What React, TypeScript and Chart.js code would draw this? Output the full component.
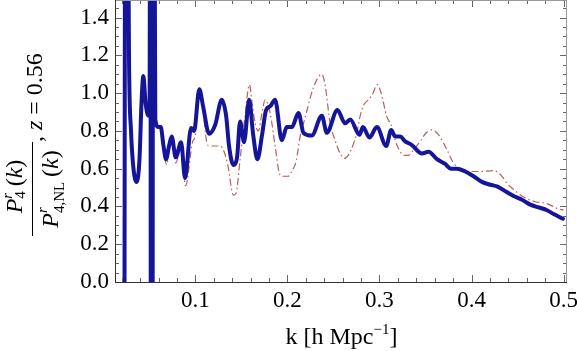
import { useEffect, useRef } from "react";
import { Chart, registerables } from "chart.js";

Chart.register(...registerables);

// ---- data ----
const kBlue = [
  0.0225, 0.0245, 0.0258, 0.0279, 0.0301, 0.0328, 0.0363, 0.0393, 0.0415, 0.0435,
  0.0459, 0.0483, 0.0502, 0.0511, 0.0518, 0.0526, 0.0533, 0.0541, 0.0548, 0.0565,
  0.0598, 0.0624, 0.0654, 0.0682, 0.0714, 0.0743, 0.0787, 0.0845, 0.0888, 0.0953,
  0.0986, 0.1043, 0.1084, 0.1149, 0.1214, 0.1287, 0.1334, 0.1366, 0.1413, 0.1453,
  0.1486, 0.1529, 0.1584, 0.1628, 0.1674, 0.1725, 0.1768, 0.1812, 0.1866, 0.1939,
  0.1993, 0.2048, 0.212, 0.2174, 0.2265, 0.2374, 0.2428, 0.2543, 0.2627, 0.2682,
  0.2783, 0.282, 0.2891, 0.2972, 0.3073, 0.3127, 0.3171, 0.3225, 0.3279, 0.3352,
  0.3461, 0.3533, 0.3624, 0.3714, 0.3776, 0.3841, 0.3932, 0.4022, 0.4113, 0.4203,
  0.4283, 0.4385, 0.4457, 0.4548, 0.4638, 0.4728, 0.482, 0.4891, 0.4993,
];
const vBlue = [
  -2, 4, 3.0, 1.2, 0.8, 0.6, 0.53, 0.65, 0.95, 1.09,
  0.95, 0.885, 0.88, 3, -2, 3, -2, 3, 3, 0.86,
  0.82, 0.82, 0.72, 0.65, 0.72, 0.77, 0.66, 0.74, 0.55, 0.815,
  0.8, 1.02, 0.93, 0.785, 0.83, 0.965, 0.88, 0.72, 0.62, 0.66,
  0.85, 0.74, 0.965, 0.78, 0.65, 0.78, 0.91, 0.93, 0.965, 0.75,
  0.82, 0.82, 0.895, 0.79, 0.775, 0.88, 0.79, 0.91, 0.84, 0.86,
  0.78, 0.82, 0.765, 0.82, 0.72, 0.805, 0.77, 0.77, 0.745, 0.725,
  0.68, 0.69, 0.65, 0.625, 0.6, 0.6, 0.585, 0.56, 0.53, 0.515,
  0.505, 0.475, 0.455, 0.435, 0.41, 0.395, 0.38, 0.36, 0.335,
];

const kRed = [
  0.0225, 0.0245, 0.0258, 0.0279, 0.0301, 0.0328, 0.0363, 0.0393, 0.0415, 0.0435,
  0.0459, 0.0483, 0.0502, 0.0511, 0.0518, 0.0526, 0.0533, 0.0541, 0.0548, 0.0565,
  0.0598, 0.0624, 0.0654, 0.0689, 0.0714, 0.0743, 0.0787, 0.0845, 0.0893, 0.0972,
  0.0997, 0.1043, 0.1084, 0.1133, 0.1192, 0.1268, 0.1304, 0.1352, 0.1413, 0.1442,
  0.1486, 0.154, 0.1587, 0.1616, 0.1649, 0.1685, 0.1725, 0.1758, 0.1812, 0.1866,
  0.191, 0.1939, 0.2008, 0.2051, 0.2095, 0.2138, 0.2192, 0.2283, 0.2374, 0.241,
  0.2464, 0.2518, 0.2573, 0.2622, 0.2682, 0.2754, 0.279, 0.2826, 0.288, 0.2921,
  0.2975, 0.3018, 0.308, 0.3127, 0.3171, 0.3225, 0.3268, 0.3312, 0.337, 0.3442,
  0.3508, 0.357, 0.3641, 0.3733, 0.3804, 0.3877, 0.395, 0.4095, 0.4239, 0.433,
  0.4388, 0.4457, 0.4565, 0.4692, 0.482, 0.4928, 0.5,
];
const vRed = [
  -2, 4, 3.0, 1.2, 0.8, 0.6, 0.52, 0.65, 0.95, 1.09,
  0.95, 0.88, 0.87, 3, -2, 3, -2, 3, 3, 0.85,
  0.82, 0.81, 0.7, 0.62, 0.7, 0.76, 0.63, 0.72, 0.51, 0.745,
  0.77, 1.02, 0.9, 0.725, 0.72, 0.72, 0.7, 0.62, 0.46, 0.47,
  0.65, 0.88, 1.045, 0.95, 0.84, 0.8, 0.9, 0.965, 0.895, 0.72,
  0.58, 0.56, 0.56, 0.59, 0.64, 0.77, 0.87, 1.03, 1.1, 1.04,
  0.84, 0.75, 0.68, 0.655, 0.69, 0.79, 0.88, 0.935, 0.965, 0.99,
  1.045, 1.0, 0.875, 0.83, 0.75, 0.69, 0.67, 0.67, 0.7, 0.745,
  0.79, 0.805, 0.78, 0.7, 0.63, 0.6, 0.585, 0.585, 0.59, 0.56,
  0.52, 0.49, 0.45, 0.425, 0.415, 0.39, 0.38,
];

const xTickValues = [0.1, 0.2, 0.3, 0.4, 0.5];
const xTickLabels = ["0.1", "0.2", "0.3", "0.4", "0.5"];
const yTickValues = [0, 0.2, 0.4, 0.6, 0.8, 1.0, 1.2, 1.4];
const yTickLabels = ["0.0", "0.2", "0.4", "0.6", "0.8", "1.0", "1.2", "1.4"];
const xMinorTicks = [
  0.02, 0.04, 0.06, 0.08, 0.1, 0.12, 0.14, 0.16, 0.18, 0.2, 0.22, 0.24, 0.26, 0.28,
  0.3, 0.32, 0.34, 0.36, 0.38, 0.4, 0.42, 0.44, 0.46, 0.48, 0.5,
];
const yMinorTicks = [
  0, 0.05, 0.1, 0.15, 0.2, 0.25, 0.3, 0.35, 0.4, 0.45, 0.5, 0.55, 0.6, 0.65, 0.7,
  0.75, 0.8, 0.85, 0.9, 0.95, 1.0, 1.05, 1.1, 1.15, 1.2, 1.25, 1.3, 1.35, 1.4, 1.45,
];

const SERIF = '"Liberation Serif", "DejaVu Serif", serif';
const BLUE = "#15159a";
const RED = "#b8605a";

type Piece = { t: string; f: string; dy: number };
type Run = Piece | { stack: Piece[] };

function runWidth(ctx: CanvasRenderingContext2D, r: Run): number {
  if ("stack" in r) {
    let w = 0;
    for (const p of r.stack) {
      ctx.font = p.f;
      w = Math.max(w, ctx.measureText(p.t).width);
    }
    return w;
  }
  ctx.font = r.f;
  return ctx.measureText(r.t).width;
}

function totalWidth(ctx: CanvasRenderingContext2D, runs: Run[]): number {
  return runs.reduce((s, r) => s + runWidth(ctx, r), 0);
}

function drawRuns(ctx: CanvasRenderingContext2D, runs: Run[], u0: number, v0: number) {
  let u = u0;
  ctx.textAlign = "left";
  ctx.textBaseline = "alphabetic";
  for (const r of runs) {
    const w = runWidth(ctx, r);
    const pieces = "stack" in r ? r.stack : [r];
    for (const p of pieces) {
      ctx.font = p.f;
      ctx.fillText(p.t, u, v0 + p.dy);
    }
    u += w;
  }
}

const F = (size: number, italic = false) => `${italic ? "italic " : ""}${size}px ${SERIF}`;

const framePlugin = {
  id: "mmaFrame",
  afterDatasetsDraw(chart: any) {
    const { ctx, chartArea: a, scales } = chart;
    const x = scales.x;
    const y = scales.y;
    ctx.save();
    ctx.lineWidth = 1;
    ctx.strokeStyle = "#666";
    ctx.beginPath();
    for (const v of xMinorTicks) {
      const px = Math.round(x.getPixelForValue(v)) + 0.5;
      const major = xTickValues.some((t) => Math.abs(t - v) < 1e-6);
      const len = major ? 7 : 4;
      ctx.moveTo(px, a.bottom);
      ctx.lineTo(px, a.bottom - len);
      ctx.moveTo(px, a.top);
      ctx.lineTo(px, a.top + len);
    }
    for (const v of yMinorTicks) {
      const py = Math.round(y.getPixelForValue(v)) + 0.5;
      const major = yTickValues.some((t) => Math.abs(t - v) < 1e-6);
      const len = major ? 7 : 4;
      ctx.moveTo(a.left, py);
      ctx.lineTo(a.left + len, py);
      ctx.moveTo(a.right, py);
      ctx.lineTo(a.right - len, py);
    }
    ctx.stroke();
    ctx.strokeStyle = "#999";
    ctx.beginPath();
    ctx.moveTo(a.left, a.top + 0.5);
    ctx.lineTo(a.right, a.top + 0.5);
    ctx.moveTo(Math.round(a.right) - 0.5, a.top);
    ctx.lineTo(Math.round(a.right) - 0.5, a.bottom);
    ctx.stroke();
    ctx.strokeStyle = "#333";
    ctx.beginPath();
    ctx.moveTo(Math.round(a.left) + 0.5, a.top);
    ctx.lineTo(Math.round(a.left) + 0.5, a.bottom + 0.5);
    ctx.moveTo(a.left, Math.round(a.bottom) + 0.5);
    ctx.lineTo(a.right, Math.round(a.bottom) + 0.5);
    ctx.stroke();
    ctx.restore();
  },
  afterDraw(chart: any) {
    const { ctx } = chart;
    ctx.save();
    ctx.fillStyle = "#000";
    const xRuns: Run[] = [
      { t: "k [h Mpc", f: F(24), dy: 0 },
      { t: "\u22121", f: F(15), dy: -10 },
      { t: "]", f: F(24), dy: 0 },
    ];
    const xw = totalWidth(ctx, xRuns);
    drawRuns(ctx, xRuns, 341.5 - xw / 2, 344);

    ctx.translate(32, 189);
    ctx.rotate(-Math.PI / 2);
    const num: Run[] = [
      { t: "P", f: F(24, true), dy: 0 },
      { stack: [ { t: "r", f: F(15, true), dy: -10 }, { t: "4", f: F(15), dy: 3 } ] },
      { t: "\u2009(", f: F(24), dy: 0 },
      { t: "k", f: F(24, true), dy: 0 },
      { t: ")", f: F(24), dy: 0 },
    ];
    const den: Run[] = [
      { t: "P", f: F(24, true), dy: 0 },
      { stack: [ { t: "r", f: F(15, true), dy: -11 }, { t: "4,NL", f: F(15), dy: 6 } ] },
      { t: "\u2009(", f: F(24), dy: 0 },
      { t: "k", f: F(24, true), dy: 0 },
      { t: ")", f: F(24), dy: 0 },
    ];
    const nw = totalWidth(ctx, num);
    drawRuns(ctx, num, 2.5 - nw / 2, -10);
    const dw = totalWidth(ctx, den);
    drawRuns(ctx, den, -dw / 2, 26);
    ctx.strokeStyle = "#000";
    ctx.lineWidth = 1;
    ctx.beginPath();
    ctx.moveTo(-47, 0.5);
    ctx.lineTo(47, 0.5);
    ctx.stroke();
    const rest: Run[] = [
      { t: ", ", f: F(24), dy: 0 },
      { t: "z", f: F(24, true), dy: 0 },
      { t: " = 0.56", f: F(24), dy: 0 },
    ];
    drawRuns(ctx, rest, 47, 10);
    ctx.restore();
  },
};

export default function App() {
  const ref = useRef<HTMLCanvasElement | null>(null);

  useEffect(() => {
    const el = ref.current;
    if (!el) return;
    const blue = kBlue.map((k, i) => ({ x: k, y: vBlue[i] }));
    const red = kRed.map((k, i) => ({ x: k, y: vRed[i] }));
    const chart = new Chart(el, {
      type: "line",
      data: {
        datasets: [
          {
            data: blue,
            borderColor: BLUE,
            borderWidth: 4,
            pointRadius: 0,
            cubicInterpolationMode: "monotone",
            fill: false,
            borderJoinStyle: "round",
            borderCapStyle: "round",
          },
          {
            data: red,
            borderColor: RED,
            borderWidth: 1.2,
            borderDash: [7, 3, 1.5, 3],
            pointRadius: 0,
            cubicInterpolationMode: "monotone",
            fill: false,
          },
        ],
      },
      options: {
        responsive: false,
        animation: false,
        devicePixelRatio: 1,
        layout: { padding: { left: 0, right: 10, top: 0, bottom: 0 } },
        plugins: { legend: { display: false }, tooltip: { enabled: false } },
        scales: {
          x: {
            type: "linear",
            min: 0.0127,
            max: 0.5037,
            grid: { display: false, drawTicks: false },
            border: { display: false },
            afterBuildTicks: (s: any) => {
              s.ticks = xTickValues.map((v) => ({ value: v }));
            },
            afterFit: (s: any) => {
              s.height = 69;
              s.paddingLeft = 0;
              s.paddingRight = 0;
            },
            ticks: {
              padding: 5,
              color: "#000",
              maxRotation: 0,
              autoSkip: false,
              font: { family: SERIF, size: 23 },
              callback: (v: any) => {
                const i = xTickValues.findIndex((t) => Math.abs(t - Number(v)) < 1e-6);
                return i >= 0 ? xTickLabels[i] : "";
              },
            },
          },
          y: {
            type: "linear",
            min: 0,
            max: 1.493,
            grid: { display: false, drawTicks: false },
            border: { display: false },
            afterBuildTicks: (s: any) => {
              s.ticks = yTickValues.map((v) => ({ value: v }));
            },
            afterFit: (s: any) => {
              s.width = 115;
              s.paddingTop = 0;
              s.paddingBottom = 0;
            },
            ticks: {
              padding: 6,
              color: "#000",
              autoSkip: false,
              font: { family: SERIF, size: 23 },
              callback: (v: any) => {
                const i = yTickValues.findIndex((t) => Math.abs(t - Number(v)) < 1e-6);
                return i >= 0 ? yTickLabels[i] : "";
              },
            },
          },
        },
      },
      plugins: [framePlugin],
    } as any);
    return () => chart.destroy();
  }, []);

  return (
    <canvas
      ref={ref}
      width={577}
      height={351}
      style={{ position: "fixed", left: 0, top: 0, width: 577, height: 351, background: "#fff" }}
    />
  );
}
